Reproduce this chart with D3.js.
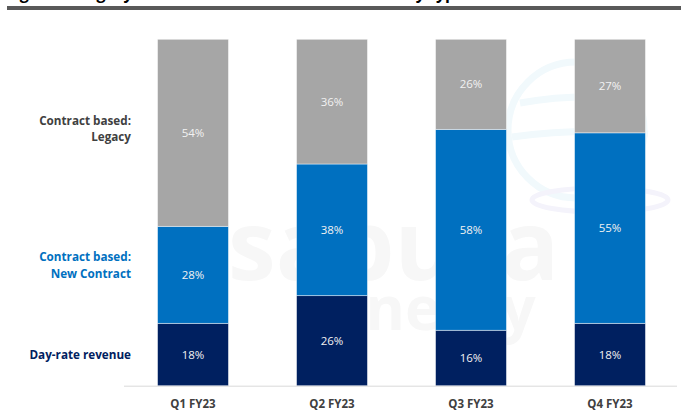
<!DOCTYPE html>
<html>
<head>
<meta charset="utf-8">
<script src="https://cdn.jsdelivr.net/npm/d3@7"></script>
<style>
  html, body { margin: 0; padding: 0; background: #fff; }
  svg { display: block; font-family: 'Open Sans', 'Noto Sans', sans-serif; }
</style>
</head>
<body>
<div id="chart"></div>
<script>
const quarters = ['Q1 FY23', 'Q2 FY23', 'Q3 FY23', 'Q4 FY23']
const dayRate = [18, 26, 16, 18]
const newContract = [28, 38, 58, 55]
const legacy = [54, 36, 26, 27]

const seriesKeys = ['dayRate', 'newContract', 'legacy']
const seriesColor = { dayRate: '#002060', newContract: '#0070c0', legacy: '#a6a6a6' }

const rows = quarters.map((q, i) => ({
  quarter: q, dayRate: dayRate[i], newContract: newContract[i], legacy: legacy[i]
}))

const width = 681
const height = 414

const svg = d3.select('#chart')
  .append('svg')
  .attr('width', width)
  .attr('height', height)

// title, mostly cut off above the picture
svg.append('text')
  .attr('x', 6)
  .attr('y', -1.5)
  .attr('font-size', '16px')
  .attr('font-weight', 700)
  .attr('fill', '#000')
  .text('Figure 7: Legacy contract share is on a downtrend by type')

svg.append('rect')
  .attr('x', 7).attr('y', 6)
  .attr('width', width - 7).attr('height', 4)
  .attr('fill', '#595959')

// faint watermark
const wm = svg.append('g').attr('class', 'watermark')
wm.append('circle')
  .attr('cx', 576).attr('cy', 130).attr('r', 68)
  .attr('fill', 'none').attr('stroke', '#f1f9fc').attr('stroke-width', 7)
wm.append('path')
  .attr('d', 'M520,103 Q580,92 640,100 M512,137 Q580,128 648,134')
  .attr('fill', 'none').attr('stroke', '#f1f9fc').attr('stroke-width', 7)
wm.append('ellipse')
  .attr('cx', 600).attr('cy', 200).attr('rx', 68).attr('ry', 12)
  .attr('fill', 'none').attr('stroke', '#f4f3fb').attr('stroke-width', 5)
wm.append('text')
  .attr('x', 228).attr('y', 280)
  .attr('font-size', '96px').attr('font-weight', 700)
  .attr('fill', '#f7f7f7')
  .text('sapura')
wm.append('text')
  .attr('x', 330).attr('y', 330)
  .attr('font-size', '60px').attr('font-weight', 700)
  .attr('fill', '#f7f7f7')
  .text('energy')

const x = d3.scaleBand()
  .domain(quarters)
  .range([123.5, 679.5])
  .paddingInner(0.49)
  .paddingOuter(0.245)

const y = d3.scaleLinear()
  .domain([0, 100])
  .range([385.7, 39.3])

const stacked = d3.stack().keys(seriesKeys)(rows)

// baseline
svg.append('line')
  .attr('x1', 124).attr('x2', 677)
  .attr('y1', y(0) + 0.5).attr('y2', y(0) + 0.5)
  .attr('stroke', '#d9d9d9')
  .attr('stroke-width', 1)

const layers = svg.selectAll('g.layer')
  .data(stacked)
  .enter()
  .append('g')
  .attr('class', 'layer')
  .attr('fill', d => seriesColor[d.key])

layers.selectAll('rect')
  .data(d => d)
  .enter()
  .append('rect')
  .attr('x', d => x(d.data.quarter))
  .attr('y', d => y(d[1]))
  .attr('width', x.bandwidth())
  .attr('height', d => y(d[0]) - y(d[1]))
  .attr('stroke', '#ffffff')
  .attr('stroke-opacity', 0.55)
  .attr('stroke-width', 0.8)

layers.selectAll('text')
  .data(d => d)
  .enter()
  .append('text')
  .attr('x', d => x(d.data.quarter) + x.bandwidth() / 2)
  .attr('y', d => (y(d[0]) + y(d[1])) / 2)
  .attr('dy', '0.35em')
  .attr('text-anchor', 'middle')
  .attr('font-size', '11.5px')
  .attr('fill', '#f2f2f2')
  .text(d => `${d[1] - d[0]}%`)

// category labels
svg.append('g')
  .selectAll('text')
  .data(quarters)
  .enter()
  .append('text')
  .attr('x', d => x(d) + x.bandwidth() / 2)
  .attr('y', 404)
  .attr('dy', '0.35em')
  .attr('text-anchor', 'middle')
  .attr('font-size', '11.5px')
  .attr('font-weight', 700)
  .attr('fill', '#404040')
  .text(d => d)

// series labels on the left
const seriesLabels = [
  { lines: ['Contract based:', 'Legacy'], ys: [121, 137], color: '#404040' },
  { lines: ['Contract based:', 'New Contract'], ys: [257, 274], color: '#0070c0' },
  { lines: ['Day-rate revenue'], ys: [355], color: '#002060' }
]
seriesLabels.forEach(lbl => {
  lbl.lines.forEach((t, i) => {
    svg.append('text')
      .attr('x', 131)
      .attr('y', lbl.ys[i])
      .attr('dy', '0.35em')
      .attr('text-anchor', 'end')
      .attr('font-size', '11.7px')
      .attr('font-weight', 700)
      .attr('fill', lbl.color)
      .text(t)
  })
})
</script>
</body>
</html>
